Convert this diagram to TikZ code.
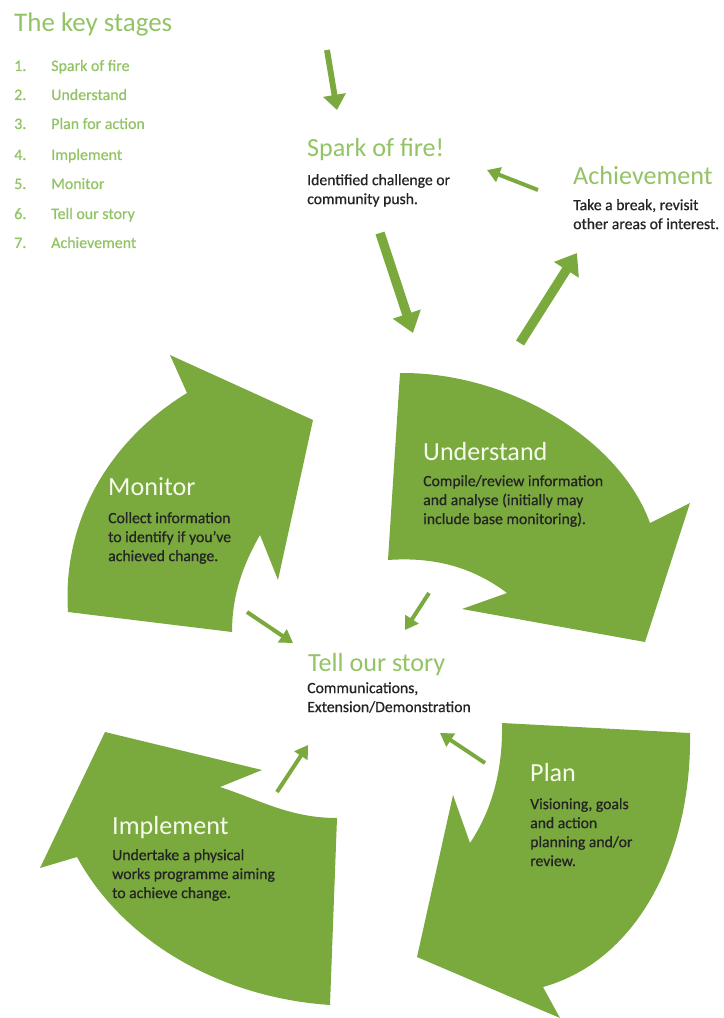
\documentclass[tikz,border=0pt]{standalone}
\usepackage{fontspec}
\setmainfont{Carlito}
\newfontfamily\blurbfont[FakeBold=0.7]{Carlito}
\usetikzlibrary{arrows.meta}

\definecolor{stagegreen}{RGB}{122,170,62}
\definecolor{lightgreen}{RGB}{146,195,100}
\definecolor{darktext}{RGB}{36,36,36}
\definecolor{offwhite}{RGB}{246,250,236}

\tikzset{
  stage/.style={fill=stagegreen},
  heading/.style={anchor=base west, inner sep=0pt, text=lightgreen, font=\fontsize{22.3}{24}\selectfont},
  onstage/.style={heading, text=offwhite},
  blurb/.style={anchor=north west, inner sep=0pt, align=left, text=darktext, font=\blurbfont\fontsize{13.4}{16.2}\selectfont},
  listitem/.style={anchor=base west, inner sep=0pt, text=lightgreen, font=\blurbfont\fontsize{13.6}{15}\selectfont},
  bigflow/.style={draw=stagegreen, line width=8pt, -{Triangle[length=17pt,width=24pt]}},
  flow/.style={draw=stagegreen, line width=5pt, -{Triangle[length=13pt,width=19pt]}},
  smallflow/.style={draw=stagegreen, line width=3.4pt, -{Triangle[length=11pt,width=13pt]}}
}
\newcommand{\stagenum}[1]{\hbox to 31.6pt{#1\hfill}}

\begin{document}
\begin{tikzpicture}[x=0.03cm, y=-0.03cm]
  \useasboundingbox (0,0) rectangle (723,1018);

  % Title and list of stages
  \node[heading, font=\fontsize{23}{25}\selectfont] (keytitle) at (14,32) {The key stages};
  \node[listitem] (item1) at (14,71) {\stagenum{1.}Spark of fire};
  \node[listitem] (item2) at (14,100) {\stagenum{2.}Understand};
  \node[listitem] (item3) at (14,129) {\stagenum{3.}Plan for action};
  \node[listitem] (item4) at (14,160) {\stagenum{4.}Implement};
  \node[listitem] (item5) at (14,189) {\stagenum{5.}Monitor};
  \node[listitem] (item6) at (14,219) {\stagenum{6.}Tell our story};
  \node[listitem] (item7) at (14,248) {\stagenum{7.}Achievement};

  % Big curved arrows
  % Understand (top right)
  \fill[stage] (400,373) .. controls (510,372) and (620,440) .. (650,523)
    -- (690,503) -- (645,642) -- (462,609) -- (507,593)
    .. controls (470,565) and (430,557) .. (388,560) -- cycle;
  % Plan (bottom right)
  \fill[stage] (502,723) -- (690,733) .. controls (692,850) and (640,960) .. (543,987)
    -- (560,1018) -- (417,957) -- (453,795) -- (470,843)
    .. controls (492,810) and (503,770) .. (502,723) -- cycle;
  % Implement (bottom left)
  \fill[stage] (337,818) -- (330,1005) .. controls (225,998) and (125,945) .. (77,857)
    -- (40,868) -- (105,732) -- (262,770) -- (220,787)
    .. controls (260,800) and (290,818) .. (337,818) -- cycle;
  % Monitor (top left)
  \fill[stage] (232,632) -- (68,612) .. controls (62,520) and (110,440) .. (187,393)
    -- (170,355) -- (313,420) -- (278,580) -- (260,535)
    .. controls (240,570) and (232,600) .. (232,632) -- cycle;

  % Stage texts
  \node[heading] (spark) at (307,157) {Spark of fire!};
  \node[blurb] (sparktxt) at (307,174) {Identified challenge or\\community push.};
  \node[heading] (achieve) at (573,185) {Achievement};
  \node[blurb] (achievetxt) at (573,199) {Take a break, revisit\\other areas of interest.};
  \node[onstage] (understand) at (423,460) {Understand};
  \node[blurb] (understandtxt) at (423,475) {Compile/review information\\and analyse (initially may\\include base monitoring).};
  \node[onstage] (monitor) at (108,495) {Monitor};
  \node[blurb] (monitortxt) at (108,512) {Collect information\\to identify if you’ve\\achieved change.};
  \node[heading] (story) at (308,671) {Tell our story};
  \node[blurb] (storytxt) at (307,682) {Communications,\\Extension/Demonstration};
  \node[onstage] (plan) at (530,781) {Plan};
  \node[blurb] (plantxt) at (530,798) {Visioning, goals\\and action\\planning and/or\\review.};
  \node[onstage] (implement) at (112,834) {Implement};
  \node[blurb] (implementtxt) at (112,849) {Undertake a physical\\works programme aiming\\to achieve change.};

  % Small arrows
  \coordinate (inA) at (327,50);   \coordinate (inB) at (337,110);
  \coordinate (sparkA) at (380,233); \coordinate (sparkB) at (413,333);
  \coordinate (achA) at (520,343); \coordinate (achB) at (577,253);
  \coordinate (backA) at (538,190); \coordinate (backB) at (487,170);
  \coordinate (monA) at (247,612); \coordinate (monB) at (293,643);
  \coordinate (undA) at (429,593); \coordinate (undB) at (405,630);
  \coordinate (impA) at (277,792); \coordinate (impB) at (308,745);
  \coordinate (planA) at (485,763); \coordinate (planB) at (440,733);

  \draw[flow] (inA) -- (inB);
  \draw[bigflow] (sparkA) -- (sparkB);
  \draw[bigflow] (achA) -- (achB);
  \draw[smallflow] (backA) -- (backB);
  \draw[smallflow] (monA) -- (monB);
  \draw[smallflow] (undA) -- (undB);
  \draw[smallflow] (impA) -- (impB);
  \draw[smallflow] (planA) -- (planB);
\end{tikzpicture}
\end{document}
